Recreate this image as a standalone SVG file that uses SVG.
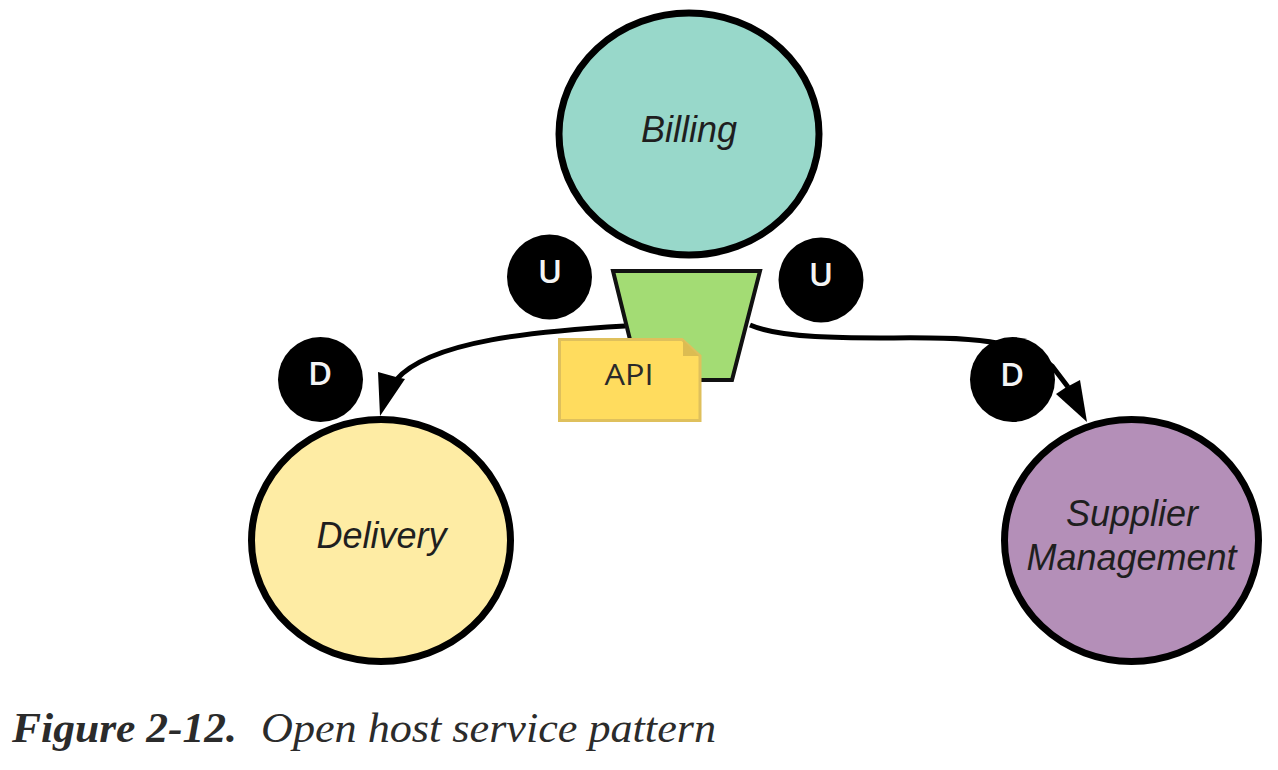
<svg xmlns="http://www.w3.org/2000/svg" width="1278" height="770" viewBox="0 0 1278 770">
<style>
.ctx{stroke:#000;stroke-width:7}
.lbl{font-family:"Liberation Sans",Arial,sans-serif;font-style:italic;font-size:36px;fill:#1f1f1f;text-anchor:middle}
.tag{font-family:"Open Sans","Liberation Sans",sans-serif;font-weight:600;font-size:33px;fill:#f4f4f4;text-anchor:middle}
.line{fill:none;stroke:#000;stroke-width:5}
.cap{font-family:"Liberation Serif","Times New Roman",serif;font-style:italic;font-size:43px;fill:#2b2b2b}
</style>
<rect width="1278" height="770" fill="#fff"/>
<g id="connectors">
<path class="line" d="M625 326C540 331 430 340 396 380"/>
<polygon points="380,416 378,372 396,377 405,379" fill="#000"/>
<path class="line" d="M750 325C790 342 880 337 930 338C985 338 1030 345 1052 366L1068 387"/>
<polygon points="1087,422 1056,394 1065,388 1080,380" fill="#000"/>
</g>
<g id="billing"><ellipse class="ctx" cx="689" cy="134" rx="130" ry="121" fill="#98d8ca"/><text class="lbl" x="689" y="141.500">Billing</text></g>
<g id="delivery"><ellipse class="ctx" cx="381" cy="540.500" rx="129.500" ry="121" fill="#feeca4"/><text class="lbl" x="381.500" y="548">Delivery</text></g>
<g id="supplier"><ellipse class="ctx" cx="1131.500" cy="540.500" rx="127" ry="121" fill="#b48fb8"/><text class="lbl" x="1132" y="526">Supplier</text><text class="lbl" x="1131.500" y="570">Management</text></g>
<g id="ohs"><polygon points="613,271 760,271 732,380 640,380" fill="#a3dc74" stroke="#111" stroke-width="4"/></g>
<g id="api"><path d="M559.500 339.500H682L700 356V420.500H559.500Z" fill="#ffdc5e" stroke="#dfc05c" stroke-width="3"/><path d="M683 340V356H699Z" fill="#dcbc52"/><text x="629" y="385" font-family="'Open Sans','Liberation Sans',sans-serif" font-size="30" fill="#2a2a2a" text-anchor="middle" textLength="49" lengthAdjust="spacingAndGlyphs">API</text></g>
<g id="u-left"><circle cx="549.500" cy="277" r="42.500" fill="#000"/><text class="tag" x="550" y="283">U</text></g>
<g id="u-right"><circle cx="821" cy="280" r="42.500" fill="#000"/><text class="tag" x="821" y="286">U</text></g>
<g id="d-left"><circle cx="320.500" cy="379.500" r="42.500" fill="#000"/><text class="tag" x="320" y="385">D</text></g>
<g id="d-right"><circle cx="1012.500" cy="379.500" r="42.500" fill="#000"/><text class="tag" x="1012" y="386">D</text></g>
<text class="cap" x="12" y="742" font-weight="700" textLength="225" lengthAdjust="spacingAndGlyphs">Figure 2-12.</text>
<text class="cap" x="261" y="742" textLength="455" lengthAdjust="spacingAndGlyphs">Open host service pattern</text>
</svg>
